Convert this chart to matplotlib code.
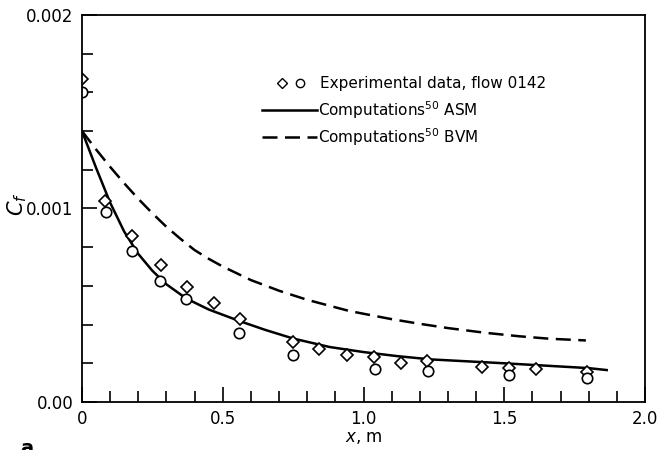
import matplotlib
matplotlib.use('Agg')
import matplotlib.pyplot as plt

# experimental data, flow 0142
x_dia = [0.0, 0.082, 0.179, 0.28, 0.372, 0.469, 0.561, 0.751, 0.843, 0.94, 1.037, 1.132, 1.224, 1.42, 1.518, 1.613, 1.793]
y_dia = [0.00167, 0.00104, 0.00086, 0.00071, 0.000596, 0.000513, 0.000429, 0.000312, 0.000274, 0.000243, 0.000232, 0.000203, 0.000212, 0.000183, 0.000174, 0.000169, 0.000157]
x_cir = [0.0, 0.084, 0.179, 0.277, 0.369, 0.559, 0.751, 1.04, 1.228, 1.518, 1.793]
y_cir = [0.0016, 0.00098, 0.00078, 0.000625, 0.00053, 0.000355, 0.000243, 0.000172, 0.000162, 0.00014, 0.000122]

# computations ASM (solid)
x_asm = [0.0, 0.05, 0.1, 0.15, 0.2, 0.25, 0.3, 0.37, 0.45, 0.56, 0.65, 0.75, 0.88, 1.0, 1.12, 1.24, 1.5, 1.8, 1.864]
y_asm = [0.0014, 0.00121, 0.00103, 0.00088, 0.000765, 0.000678, 0.000608, 0.000535, 0.000478, 0.000418, 0.000373, 0.000328, 0.000284, 0.000258, 0.000237, 0.00022, 0.0002, 0.000175, 0.000165]

# computations BVM (dashed)
x_bvm = [0.0, 0.05, 0.1, 0.15, 0.2, 0.25, 0.3, 0.35, 0.4, 0.45, 0.5, 0.6, 0.7, 0.8, 0.95, 1.1, 1.2, 1.3, 1.43, 1.55, 1.66, 1.79]
y_bvm = [0.0014, 0.001305, 0.001215, 0.00113, 0.00105, 0.000975, 0.000905, 0.000843, 0.000785, 0.00074, 0.0007, 0.00063, 0.000575, 0.000528, 0.00047, 0.000428, 0.000404, 0.000382, 0.000358, 0.00034, 0.000327, 0.000318]

x_ticks = [0, 0.5, 1.0, 1.5, 2.0]
x_ticklabels = ['0', '0.5', '1.0', '1.5', '2.0']
y_ticks = [0, 0.001, 0.002]
y_ticklabels = ['0.00', '0.001', '0.002']

plt.rcParams['font.family'] = ['DejaVu Sans']

fig = plt.figure(figsize=(6.7, 4.5), dpi=100)
ax = fig.add_axes([0.1224, 0.1067, 0.8403, 0.86])

ax.plot(x_asm, y_asm, color='black', linewidth=1.8)
ax.plot(x_bvm, y_bvm, color='black', linewidth=1.8, dashes=(6, 3))
ax.plot(x_dia, y_dia, linestyle='none', marker='D', markersize=6.5,
        markerfacecolor='white', markeredgecolor='black', markeredgewidth=1.2)
ax.plot(x_cir, y_cir, linestyle='none', marker='o', markersize=7.5,
        markerfacecolor='white', markeredgecolor='black', markeredgewidth=1.2)

ax.set_xlim(0, 2.0)
ax.set_ylim(0, 0.002)
ax.set_xticks(x_ticks)
ax.set_xticklabels(x_ticklabels)
ax.set_xticks([i / 10 for i in range(21)], minor=True)
ax.set_yticks(y_ticks)
ax.set_yticklabels(y_ticklabels)
ax.set_yticks([i * 0.0002 for i in range(11)], minor=True)
ax.tick_params(which='major', direction='in', length=11, width=1.2, labelsize=12, pad=6)
ax.tick_params(which='minor', direction='in', length=8, width=1.2)
for s in ax.spines.values():
    s.set_linewidth(1.3)

ax.set_xlabel('$x$, m', fontsize=12, labelpad=0)
ax.set_ylabel('$C_f$', fontsize=15)
ax.yaxis.set_label_coords(-0.095, 0.51)

# legend drawn by hand
ax.plot([0.355], [0.824], transform=ax.transAxes, marker='D', markersize=5.5,
        markerfacecolor='white', markeredgecolor='black', linestyle='none', clip_on=False)
ax.plot([0.387], [0.824], transform=ax.transAxes, marker='o', markersize=6,
        markerfacecolor='white', markeredgecolor='black', linestyle='none', clip_on=False)
ax.text(0.4227, 0.824, 'Experimental data, flow 0142', transform=ax.transAxes,
        fontsize=11, va='center', ha='left')
ax.plot([0.32, 0.417], [0.755, 0.755], transform=ax.transAxes, color='black', linewidth=1.8)
ax.text(0.419, 0.755, 'Computations$^{50}$ ASM', transform=ax.transAxes,
        fontsize=11, va='center', ha='left')
ax.plot([0.32, 0.417], [0.685, 0.685], transform=ax.transAxes, color='black', linewidth=1.8,
        dashes=(6, 3))
ax.text(0.419, 0.685, 'Computations$^{50}$ BVM', transform=ax.transAxes,
        fontsize=11, va='center', ha='left')

fig.text(0.03, -0.01, 'a', fontsize=14, fontweight='bold')

fig.savefig('out.png', dpi=100)
